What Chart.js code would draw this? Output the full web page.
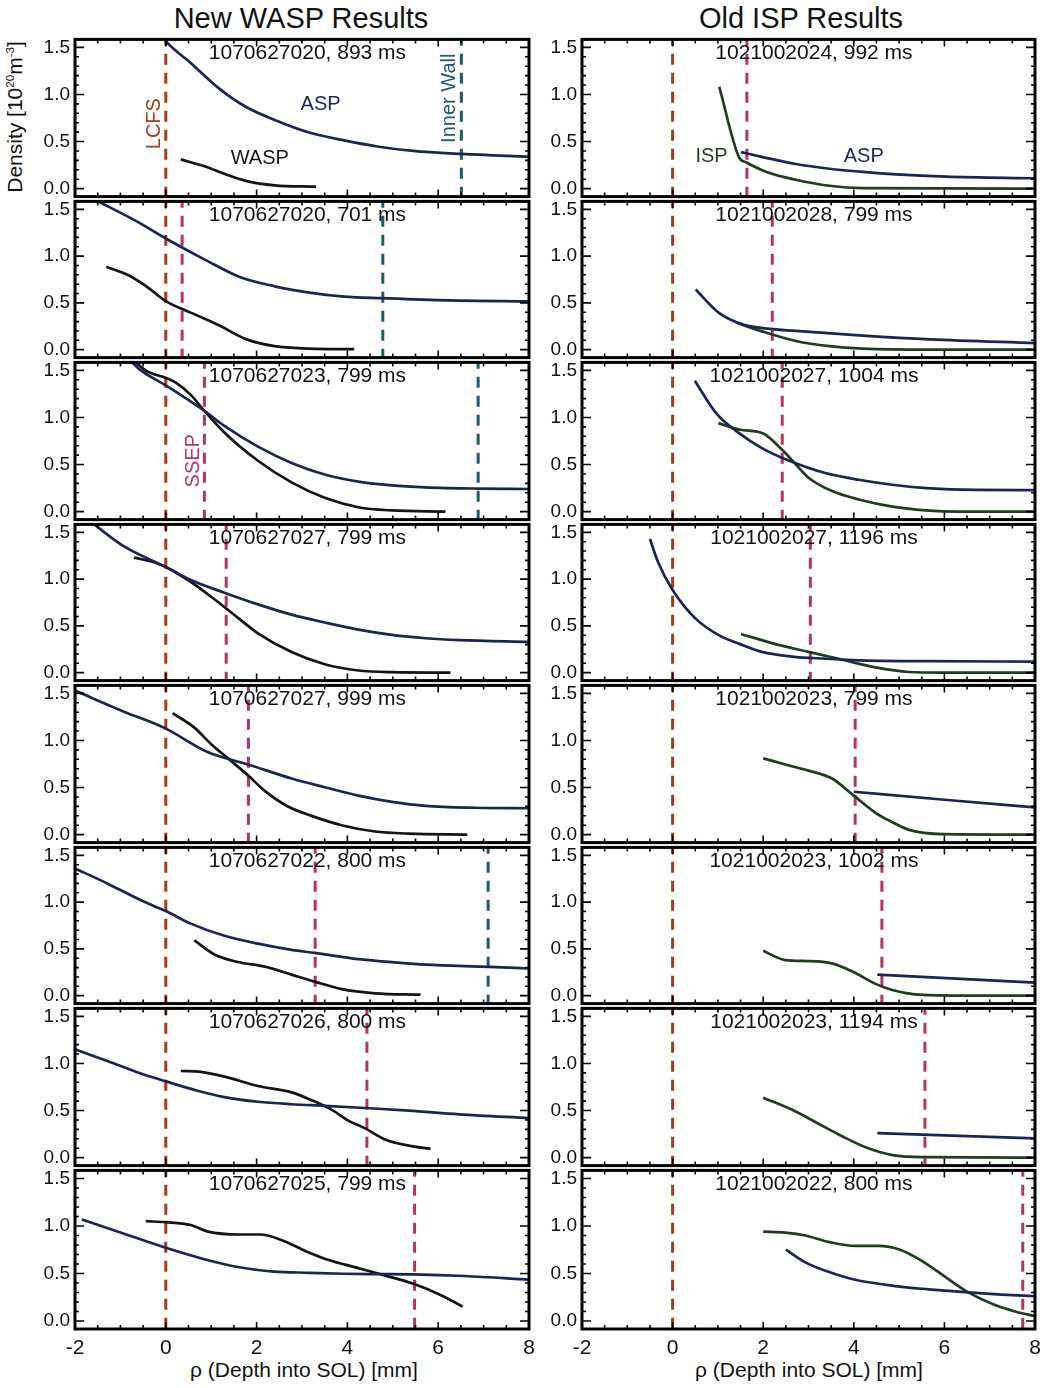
<!DOCTYPE html>
<html>
<head>
<meta charset="utf-8">
<script src="https://cdn.jsdelivr.net/npm/chart.js@4.4.1/dist/chart.umd.min.js"></script>
<style>
  body { margin: 0; background: #fff; }
  #page { position: relative; width: 1043px; height: 1388px; overflow: hidden;
          font-family: "Liberation Sans", Arial, Helvetica, sans-serif; color: #111; }
  canvas { position: absolute; }
  .title { position: absolute; top: 2px; width: 500px; font-size: 29px; line-height: 32px; text-align: center; }
  .xtitle { position: absolute; top: 1357px; width: 454px; font-size: 21px; line-height: 26px; text-align: center; }
  .ytitle { position: absolute; left: -85px; top: 105px; width: 200px; height: 24px; line-height: 24px;
            font-size: 21px; text-align: center; transform: rotate(-90deg); }
  .ytitle sup { font-size: 55%; vertical-align: 0.7em; line-height: 0; }
</style>
</head>
<body>
<div id="page">
  <div class="title" style="left:51px">New WASP Results</div>
  <div class="title" style="left:551px">Old ISP Results</div>
  <div class="ytitle">Density [10<sup>20</sup>m<sup>-3</sup>]</div>
  <div class="xtitle" style="left:77px">ρ (Depth into SOL) [mm]</div>
  <div class="xtitle" style="left:582px">ρ (Depth into SOL) [mm]</div>
</div>
<script>
// axis ticks
const xTicks = [-2, 0, 2, 4, 6, 8];
const yTicks = [0, 0.5, 1.0, 1.5];
const yMin = -0.085, yMax = 1.585;

// shot labels
const shotsLeft = ['1070627020, 893 ms', '1070627020, 701 ms', '1070627023, 799 ms', '1070627027, 799 ms',
                   '1070627027, 999 ms', '1070627022, 800 ms', '1070627026, 800 ms', '1070627025, 799 ms'];
const shotsRight = ['1021002024, 992 ms', '1021002028, 799 ms', '1021002027, 1004 ms', '1021002027, 1196 ms',
                    '1021002023, 799 ms', '1021002023, 1002 ms', '1021002023, 1194 ms', '1021002022, 800 ms'];

// vertical markers (mm), null = none
const lcfsPos = 0;
const ssepLeft = [null, 0.36, 0.85, 1.33, 1.82, 3.29, 4.43, 5.48];
const wallLeft = [6.51, 4.78, 6.88, null, null, 7.1, null, null];
const ssepRight = [1.64, 2.2, 2.42, 3.04, 4.03, 4.62, 5.57, 7.73];

// New WASP results: [rho, density]
const aspL1 = [[-0.05,1.6],[0.03,1.55],[0.56,1.33],[1.17,1.065],[1.78,0.864],[2.4,0.73],[3.16,0.596],[3.93,0.512],[4.69,0.445],[5.45,0.4],[6.52,0.368],[8,0.338]];
const waspL1 = [[0.33,0.31],[0.87,0.235],[1.33,0.15],[1.78,0.08],[2.4,0.035],[3.31,0.02]];
const aspL2 = [[-1.55,1.6],[-0.66,1.377],[0.03,1.18],[0.87,0.96],[1.63,0.777],[2.4,0.677],[3.16,0.61],[3.93,0.567],[4.77,0.55],[6.22,0.527],[8,0.517]];
const waspL2 = [[-1.31,0.887],[-0.81,0.793],[-0.43,0.677],[0.03,0.51],[0.56,0.393],[1.17,0.26],[1.78,0.11],[2.4,0.037],[3.16,0.012],[4.15,0.005]];
const aspL3 = [[-0.8,1.61],[-0.55,1.5],[0,1.34],[0.85,1.07],[1.29,0.91],[2.03,0.69],[2.77,0.517],[3.5,0.394],[4.24,0.318],[4.98,0.278],[5.72,0.258],[6.83,0.245],[8,0.24]];
const waspL3 = [[-0.75,1.62],[-0.41,1.49],[0,1.42],[0.22,1.37],[0.55,1.24],[0.85,1.07],[1.29,0.84],[2.03,0.54],[2.77,0.31],[3.5,0.146],[4.24,0.046],[4.98,0.012],[6.16,0.0]];
const aspL4 = [[-1.62,1.6],[-0.92,1.35],[0,1.13],[0.55,0.99],[1.29,0.855],[2.03,0.73],[2.77,0.62],[3.5,0.536],[4.24,0.46],[4.98,0.404],[5.72,0.368],[6.46,0.348],[8,0.33]];
const waspL4 = [[-0.7,1.23],[-0.26,1.18],[0,1.13],[0.55,0.97],[1.07,0.785],[1.59,0.586],[2.03,0.42],[2.77,0.22],[3.5,0.09],[4.24,0.023],[4.98,0.005],[6.27,0.0]];
const aspL5 = [[-2,1.53],[-0.92,1.306],[0,1.126],[0.92,0.877],[1.81,0.745],[2.77,0.596],[3.5,0.503],[4.24,0.414],[4.98,0.348],[5.72,0.305],[6.83,0.285],[8,0.28]];
const waspL5 = [[0.15,1.29],[0.63,1.136],[1.0,0.96],[1.37,0.81],[1.81,0.63],[2.18,0.464],[2.69,0.298],[3.21,0.199],[3.87,0.1],[4.61,0.033],[5.35,0.01],[6.64,0.0]];
const aspL6 = [[-2,1.36],[-1.29,1.2],[-0.55,1.02],[0,0.904],[0.55,0.77],[1.29,0.64],[2.03,0.556],[2.77,0.49],[3.28,0.457],[4.24,0.39],[4.98,0.358],[5.72,0.331],[7.12,0.308],[8,0.29]];
const waspL6 = [[0.63,0.59],[1.07,0.44],[1.59,0.36],[2.18,0.31],[2.77,0.225],[3.28,0.15],[3.87,0.07],[4.61,0.025],[5.61,0.01]];
const aspL7 = [[-2,1.15],[-1.29,1.027],[-0.55,0.893],[0,0.81],[0.7,0.71],[1.29,0.643],[2.03,0.593],[2.77,0.567],[3.5,0.55],[4.39,0.527],[5.35,0.5],[6.46,0.46],[8,0.42]];
const waspL7 = [[0.33,0.92],[0.77,0.91],[1.29,0.86],[2.03,0.76],[2.77,0.693],[3.21,0.61],[3.65,0.51],[4.02,0.393],[4.39,0.31],[4.83,0.193],[5.35,0.127],[5.83,0.093]];
const aspL8 = [[-1.85,1.068],[-1.05,0.94],[0,0.77],[0.85,0.65],[1.62,0.565],[2.38,0.52],[3.15,0.507],[3.91,0.497],[4.67,0.493],[5.44,0.49],[6.58,0.473],[8,0.435]];
const waspL8 = [[-0.44,1.05],[0,1.04],[0.55,1.01],[0.93,0.94],[1.62,0.91],[2.08,0.91],[2.61,0.84],[3.15,0.72],[3.53,0.65],[4.29,0.55],[4.82,0.48],[5.44,0.394],[6.05,0.274],[6.54,0.15]];

// Old ISP results
const aspR1 = [[1.51,0.388],[1.99,0.335],[2.72,0.261],[3.46,0.211],[4.2,0.177],[4.94,0.151],[6.04,0.127],[8,0.11]];
const ispR1 = [[1.03,1.08],[1.47,0.33],[1.62,0.28],[2.06,0.18],[2.72,0.094],[3.46,0.03],[4.2,0.005],[8,0.0]];
const aspR2 = [[0.51,0.643],[1.03,0.39],[1.54,0.27],[1.99,0.23],[2.72,0.2],[4.2,0.15],[5.68,0.11],[8,0.07]];
const ispR2 = [[1.4,0.29],[1.99,0.193],[2.72,0.093],[3.46,0.037],[4.2,0.01],[5.68,0.0],[8,0.0]];
const aspR3 = [[0.49,1.39],[0.97,1.04],[1.49,0.825],[1.97,0.675],[2.56,0.543],[3.37,0.41],[4.11,0.338],[4.85,0.285],[5.59,0.25],[6.69,0.23],[8,0.228]];
const ispR3 = [[1.01,0.94],[1.49,0.87],[2.0,0.83],[2.41,0.66],[2.63,0.55],[3.0,0.36],[3.52,0.218],[4.11,0.129],[4.85,0.053],[5.59,0.013],[6.32,0.0],[8,0.0]];
const aspR4 = [[-0.5,1.43],[-0.32,1.18],[0,0.884],[0.49,0.586],[1.01,0.404],[1.49,0.305],[1.97,0.222],[2.63,0.172],[3.37,0.149],[4.11,0.132],[5.59,0.123],[8,0.118]];
const ispR4 = [[1.51,0.414],[2.27,0.305],[3.0,0.222],[3.74,0.139],[4.48,0.056],[5.22,0.007],[5.96,0.0],[8,0.0]];
const aspR5 = [[4.0,0.455],[6.0,0.37],[8,0.29]];
const ispR5 = [[2.0,0.81],[2.49,0.745],[3.0,0.68],[3.52,0.596],[3.96,0.43],[4.48,0.232],[4.85,0.132],[5.22,0.05],[5.96,0.005],[8,0.0]];
const aspR6 = [[4.52,0.225],[8,0.14]];
const ispR6 = [[2.0,0.48],[2.49,0.38],[3.0,0.37],[3.52,0.345],[3.96,0.26],[4.48,0.126],[4.85,0.06],[5.44,0.01],[6.5,0.0],[8,0.0]];
const aspR7 = [[4.52,0.26],[8,0.205]];
const ispR7 = [[2.0,0.637],[2.63,0.51],[3.22,0.36],[3.74,0.227],[4.26,0.11],[4.85,0.027],[5.59,0.005],[8,0.0]];
const aspR8 = [[2.5,0.75],[2.93,0.617],[3.44,0.517],[4.03,0.433],[4.91,0.367],[5.65,0.333],[6.53,0.3],[7.26,0.277],[8,0.26]];
const ispR8 = [[2.0,0.94],[2.49,0.93],[2.93,0.9],[3.44,0.833],[4.03,0.79],[4.54,0.79],[5.02,0.75],[5.5,0.633],[6.01,0.467],[6.53,0.3],[7.12,0.167],[7.56,0.1],[8,0.05]];

const aspLeft = [aspL1, aspL2, aspL3, aspL4, aspL5, aspL6, aspL7, aspL8];
const waspLeft = [waspL1, waspL2, waspL3, waspL4, waspL5, waspL6, waspL7, waspL8];
const aspRight = [aspR1, aspR2, aspR3, aspR4, aspR5, aspR6, aspR7, aspR8];
const ispRight = [ispR1, ispR2, ispR3, ispR4, ispR5, ispR6, ispR7, ispR8];

const FONT = '"Liberation Sans", Arial, Helvetica, sans-serif';
const colASP = '#1b2456', colWASP = '#141414', colISP = '#1f3d1c';
const colLCFS = '#a8391a', colSSEP = '#b8325e', colWall = '#1f5a6b';

// text notes inside panels (data coords)
const notes = [
  { col: 0, row: 0, text: 'ASP', x: 3.41, y: 0.89, color: colASP },
  { col: 0, row: 0, text: 'WASP', x: 2.07, y: 0.32, color: colWASP },
  { col: 0, row: 0, text: 'LCFS', x: -0.24, y: 0.69, color: colLCFS, rot: true },
  { col: 0, row: 0, text: 'Inner Wall', x: 6.25, y: 0.96, color: colWall, rot: true },
  { col: 0, row: 2, text: 'SSEP', x: 0.6, y: 0.54, color: colSSEP, rot: true },
  { col: 1, row: 0, text: 'ISP', x: 0.86, y: 0.345, color: colISP },
  { col: 1, row: 0, text: 'ASP', x: 4.22, y: 0.345, color: colASP }
];

// layout
const colX = [75, 582];
const colW = [454, 453];
const top0 = 37, rowH = 161.5;
const padT = 14, padR = 14, yAxisW = 60, xAxisH = 38;

const framePlugin = {
  id: 'frame',
  afterDatasetsDraw(chart, args, opts) {
    const { ctx, chartArea: a } = chart;
    const x = chart.scales.x, y = chart.scales.y;
    ctx.save();
    ctx.strokeStyle = '#000';
    ctx.lineWidth = 1.6;
    ctx.beginPath();
    for (let k = 0; k <= 20; k++) {
      const v = -2 + k * 0.5;
      const px = x.getPixelForValue(v);
      const len = k % 4 === 0 ? 7 : 4;
      ctx.moveTo(px, a.bottom); ctx.lineTo(px, a.bottom - len);
      ctx.moveTo(px, a.top); ctx.lineTo(px, a.top + len);
    }
    for (let k = 0; k <= 15; k++) {
      const py = y.getPixelForValue(k / 10);
      const len = k % 5 === 0 ? 9 : 4;
      ctx.moveTo(a.left, py); ctx.lineTo(a.left + len, py);
      ctx.moveTo(a.right, py); ctx.lineTo(a.right - len, py);
    }
    ctx.stroke();
    ctx.lineWidth = 3;
    ctx.strokeRect(a.left, a.top, a.right - a.left, a.bottom - a.top);

    ctx.textAlign = 'center';
    ctx.textBaseline = 'middle';
    ctx.fillStyle = '#111';
    ctx.font = '21px ' + FONT;
    ctx.fillText(opts.label, x.getPixelForValue(3.12), a.top + 14);
    (opts.notes || []).forEach(n => {
      const px = x.getPixelForValue(n.x), py = y.getPixelForValue(n.y);
      ctx.fillStyle = n.color;
      ctx.font = '20px ' + FONT;
      if (n.rot) {
        ctx.save();
        ctx.translate(px, py);
        ctx.rotate(-Math.PI / 2);
        ctx.fillText(n.text, 0, 0);
        ctx.restore();
      } else {
        ctx.fillText(n.text, px, py);
      }
    });
    ctx.restore();
  }
};

function curve(pts, color) {
  return {
    data: pts.map(p => ({ x: p[0], y: p[1] })),
    borderColor: color, borderWidth: 2.7, pointRadius: 0,
    cubicInterpolationMode: 'monotone', fill: false, order: 1
  };
}

function vline(v, color) {
  return {
    data: [{ x: v, y: yMax + 0.05 }, { x: v, y: yMin - 0.05 }],
    borderColor: color, borderWidth: 3, borderDash: [11, 8], pointRadius: 0,
    fill: false, order: 2
  };
}

const page = document.getElementById('page');

function makePanel(col, row) {
  const t = Math.round(top0 + row * rowH);
  const b = Math.round(top0 + (row + 1) * rowH);
  const last = row === 7;
  const cv = document.createElement('canvas');
  cv.width = yAxisW + colW[col] + padR;
  cv.height = padT + (b - t) + padT + (last ? xAxisH : 0);
  cv.style.left = (colX[col] - yAxisW) + 'px';
  cv.style.top = (t - padT) + 'px';
  page.appendChild(cv);

  const datasets = [vline(lcfsPos, colLCFS)];
  let label, probe, asp, probeColor;
  if (col === 0) {
    if (ssepLeft[row] !== null) datasets.push(vline(ssepLeft[row], colSSEP));
    if (wallLeft[row] !== null) datasets.push(vline(wallLeft[row], colWall));
    label = shotsLeft[row]; asp = aspLeft[row]; probe = waspLeft[row]; probeColor = colWASP;
  } else {
    datasets.push(vline(ssepRight[row], colSSEP));
    label = shotsRight[row]; asp = aspRight[row]; probe = ispRight[row]; probeColor = colISP;
  }
  datasets.push(curve(asp, colASP));
  datasets.push(curve(probe, probeColor));

  new Chart(cv, {
    type: 'line',
    data: { datasets },
    plugins: [framePlugin],
    options: {
      responsive: false,
      animation: false,
      devicePixelRatio: 1,
      events: [],
      layout: { padding: { top: padT, right: padR, bottom: padT, left: 0 } },
      plugins: {
        legend: { display: false },
        tooltip: { enabled: false },
        frame: { label, notes: notes.filter(n => n.col === col && n.row === row) }
      },
      scales: {
        x: {
          type: 'linear', min: -2, max: 8, display: last,
          grid: { display: false, drawTicks: false },
          border: { display: false },
          afterBuildTicks: s => { s.ticks = xTicks.map(v => ({ value: v })); },
          afterFit: s => { if (last) s.height = xAxisH; },
          ticks: { autoSkip: false, maxRotation: 0, padding: 7, color: '#111',
                   font: { family: FONT, size: 21 }, callback: v => String(v) }
        },
        y: {
          type: 'linear', min: yMin, max: yMax,
          grid: { display: false, drawTicks: false },
          border: { display: false },
          afterBuildTicks: s => { s.ticks = yTicks.map(v => ({ value: v })); },
          afterFit: s => { s.width = yAxisW; },
          ticks: { padding: 5, color: '#111', font: { family: FONT, size: 19 },
                   callback: v => v.toFixed(1) }
        }
      }
    }
  });
}

for (let row = 0; row < 8; row++) {
  makePanel(0, row);
  makePanel(1, row);
}
</script>
</body>
</html>
